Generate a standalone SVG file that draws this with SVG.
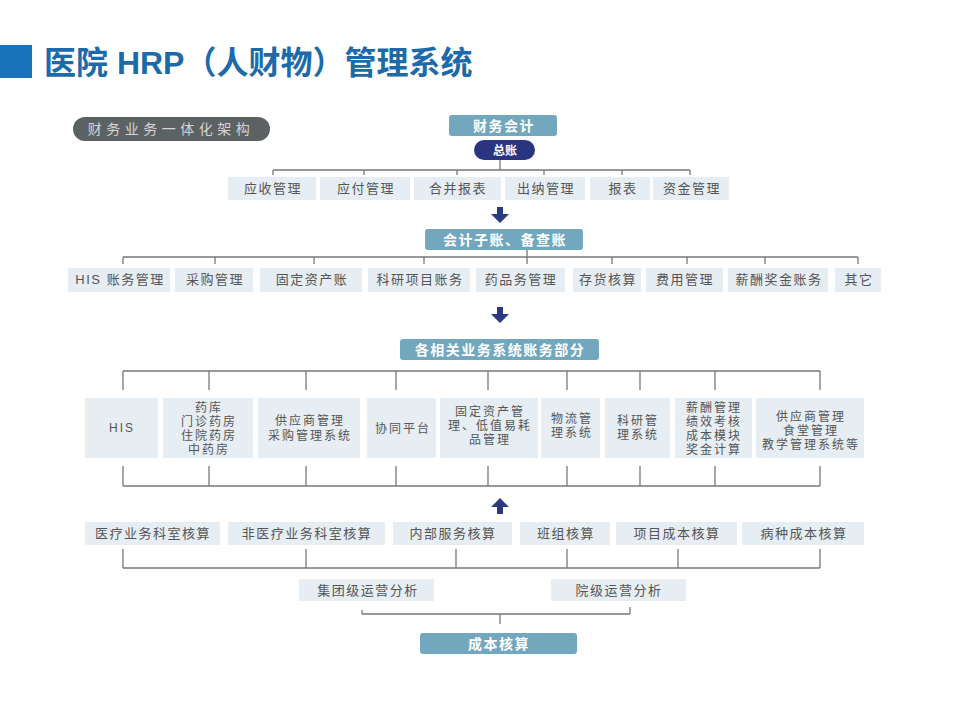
<svg xmlns="http://www.w3.org/2000/svg" width="960" height="720" viewBox="0 0 960 720">
<defs>
<style>
text{font-family:"Liberation Sans","Noto Sans CJK SC",sans-serif;}
.title{font-size:32px;font-weight:bold;fill:#1d6aaa;}
.item rect{fill:#e6edf3;}
.item text{font-size:13px;fill:#555;text-anchor:middle;letter-spacing:1.5px;}
.sys text{font-size:12px;letter-spacing:2px;}
.head rect{fill:#72a7bd;}
.head text{font-size:14px;font-weight:bold;fill:#fff;text-anchor:middle;letter-spacing:1.5px;}
.conn line{stroke:#777;stroke-width:1.3;}
.arrow{fill:#2b3a80;}
</style>
</defs>
<rect width="960" height="720" fill="#fff"/>
<rect x="0" y="45" width="32" height="33" fill="#1a72bb"/>
<text class="title" x="44" y="74">医院 HRP（人财物）管理系统</text>

<g id="pill">
<rect x="73" y="117" width="197" height="24" rx="12" fill="#5c6164"/>
<text x="171" y="134" font-size="14" fill="#d5d5d5" text-anchor="middle" letter-spacing="4.5">财务业务一体化架构</text>
</g>

<g id="caiwu" class="head"><rect x="449" y="115" width="108" height="21" rx="3"/><text x="504" y="131">财务会计</text></g>
<g id="zongzhang"><rect x="474" y="140" width="61" height="20" rx="10" fill="#2a3582"/><text x="505" y="155" font-size="12" font-weight="bold" fill="#fff" text-anchor="middle">总账</text></g>

<g id="r1a" class="item"><rect x="228" y="177" width="88" height="23"/><text x="273" y="193">应收管理</text></g>
<g id="r1b" class="item"><rect x="320" y="177" width="90" height="23"/><text x="366" y="193">应付管理</text></g>
<g id="r1c" class="item"><rect x="414" y="177" width="87" height="23"/><text x="458" y="193">合并报表</text></g>
<g id="r1d" class="item"><rect x="505" y="177" width="80" height="23"/><text x="546" y="193">出纳管理</text></g>
<g id="r1e" class="item"><rect x="590" y="177" width="60" height="23"/><text x="623" y="193">报表</text></g>
<g id="r1f" class="item"><rect x="653" y="177" width="76" height="23"/><text x="692" y="193">资金管理</text></g>

<g id="zizhang" class="head"><rect x="425" y="229" width="158" height="21" rx="3"/><text x="505" y="245">会计子账、备查账</text></g>

<g id="r2a" class="item"><rect x="68" y="268" width="102" height="24"/><text x="120" y="284">HIS 账务管理</text></g>
<g id="r2b" class="item"><rect x="175" y="268" width="78" height="24"/><text x="215" y="284">采购管理</text></g>
<g id="r2c" class="item"><rect x="260" y="268" width="102" height="24"/><text x="312" y="284">固定资产账</text></g>
<g id="r2d" class="item"><rect x="368" y="268" width="102" height="24"/><text x="420" y="284">科研项目账务</text></g>
<g id="r2e" class="item"><rect x="476" y="268" width="89" height="24"/><text x="521" y="284">药品务管理</text></g>
<g id="r2f" class="item"><rect x="573" y="268" width="68" height="24"/><text x="608" y="284">存货核算</text></g>
<g id="r2g" class="item"><rect x="646" y="268" width="77" height="24"/><text x="685" y="284">费用管理</text></g>
<g id="r2h" class="item"><rect x="728" y="268" width="100" height="24"/><text x="779" y="284">薪酬奖金账务</text></g>
<g id="r2i" class="item"><rect x="835" y="268" width="46" height="24"/><text x="859" y="284">其它</text></g>

<g id="bufen" class="head"><rect x="400" y="339" width="199" height="21" rx="3"/><text x="500" y="355">各相关业务系统账务部分</text></g>

<g id="s1" class="item sys"><rect x="85" y="398" width="73" height="60"/><text x="122" y="432">HIS</text></g>
<g id="s2" class="item sys"><rect x="163" y="398" width="90" height="60"/><text x="209" y="412">药库</text><text x="209" y="426">门诊药房</text><text x="209" y="440">住院药房</text><text x="209" y="454">中药房</text></g>
<g id="s3" class="item sys"><rect x="258" y="398" width="102" height="60"/><text x="310" y="425">供应商管理</text><text x="310" y="440">采购管理系统</text></g>
<g id="s4" class="item sys"><rect x="367" y="398" width="69" height="60"/><text x="403" y="433">协同平台</text></g>
<g id="s5" class="item sys"><rect x="440" y="398" width="98" height="60"/><text x="490" y="416">固定资产管</text><text x="490" y="430">理、低值易耗</text><text x="490" y="444">品管理</text></g>
<g id="s6" class="item sys"><rect x="541" y="398" width="59" height="60"/><text x="572" y="423">物流管</text><text x="572" y="437">理系统</text></g>
<g id="s7" class="item sys"><rect x="605" y="398" width="65" height="60"/><text x="638" y="425">科研管</text><text x="638" y="439">理系统</text></g>
<g id="s8" class="item sys"><rect x="675" y="398" width="77" height="60"/><text x="714" y="412">薪酬管理</text><text x="714" y="426">绩效考核</text><text x="714" y="440">成本模块</text><text x="714" y="454">奖金计算</text></g>
<g id="s9" class="item sys"><rect x="756" y="398" width="108" height="60"/><text x="811" y="421">供应商管理</text><text x="811" y="435">食堂管理</text><text x="811" y="449">教学管理系统等</text></g>

<g id="c1" class="item"><rect x="85" y="522" width="135" height="23"/><text x="153" y="538">医疗业务科室核算</text></g>
<g id="c2" class="item"><rect x="228" y="522" width="157" height="23"/><text x="307" y="538">非医疗业务科室核算</text></g>
<g id="c3" class="item"><rect x="393" y="522" width="119" height="23"/><text x="453" y="538">内部服务核算</text></g>
<g id="c4" class="item"><rect x="520" y="522" width="90" height="23"/><text x="566" y="538">班组核算</text></g>
<g id="c5" class="item"><rect x="616" y="522" width="121" height="23"/><text x="677" y="538">项目成本核算</text></g>
<g id="c6" class="item"><rect x="742" y="522" width="122" height="23"/><text x="804" y="538">病种成本核算</text></g>

<g id="g1" class="item"><rect x="299" y="579" width="135" height="22"/><text x="368" y="595">集团级运营分析</text></g>
<g id="g2" class="item"><rect x="551" y="579" width="135" height="22"/><text x="619" y="595">院级运营分析</text></g>

<g id="chengben" class="head"><rect x="420" y="633" width="157" height="21" rx="3"/><text x="499" y="649">成本核算</text></g>

<g id="connectors" class="conn">
<line x1="500" y1="160" x2="500" y2="170"/>
<line x1="273" y1="170" x2="690" y2="170"/>
<line x1="273" y1="170" x2="273" y2="175"/>
<line x1="364" y1="170" x2="364" y2="175"/>
<line x1="457" y1="170" x2="457" y2="175"/>
<line x1="544" y1="170" x2="544" y2="175"/>
<line x1="622" y1="170" x2="622" y2="175"/>
<line x1="690" y1="170" x2="690" y2="175"/>

<line x1="123" y1="257" x2="858" y2="257"/>
<line x1="123" y1="257" x2="123" y2="264"/>
<line x1="215" y1="257" x2="215" y2="264"/>
<line x1="314" y1="257" x2="314" y2="264"/>
<line x1="424" y1="257" x2="424" y2="264"/>
<line x1="527" y1="250" x2="527" y2="264"/>
<line x1="612" y1="257" x2="612" y2="264"/>
<line x1="687" y1="257" x2="687" y2="264"/>
<line x1="765" y1="257" x2="765" y2="264"/>
<line x1="858" y1="257" x2="858" y2="264"/>

<line x1="123" y1="371" x2="820" y2="371"/>
<line x1="123" y1="371" x2="123" y2="390"/>
<line x1="209" y1="371" x2="209" y2="390"/>
<line x1="306" y1="371" x2="306" y2="390"/>
<line x1="396" y1="371" x2="396" y2="390"/>
<line x1="488" y1="371" x2="488" y2="390"/>
<line x1="567" y1="371" x2="567" y2="390"/>
<line x1="640" y1="371" x2="640" y2="390"/>
<line x1="715" y1="371" x2="715" y2="390"/>
<line x1="820" y1="371" x2="820" y2="390"/>

<line x1="123" y1="486" x2="820" y2="486"/>
<line x1="123" y1="466" x2="123" y2="486"/>
<line x1="209" y1="466" x2="209" y2="486"/>
<line x1="306" y1="466" x2="306" y2="486"/>
<line x1="396" y1="466" x2="396" y2="486"/>
<line x1="488" y1="466" x2="488" y2="486"/>
<line x1="567" y1="466" x2="567" y2="486"/>
<line x1="640" y1="466" x2="640" y2="486"/>
<line x1="715" y1="466" x2="715" y2="486"/>
<line x1="820" y1="466" x2="820" y2="486"/>

<line x1="123" y1="568" x2="820" y2="568"/>
<line x1="123" y1="549" x2="123" y2="568"/>
<line x1="306" y1="549" x2="306" y2="568"/>
<line x1="456" y1="549" x2="456" y2="568"/>
<line x1="567" y1="549" x2="567" y2="568"/>
<line x1="678" y1="549" x2="678" y2="568"/>
<line x1="820" y1="549" x2="820" y2="568"/>

<line x1="362" y1="614" x2="630" y2="614"/>
<line x1="362" y1="610" x2="362" y2="614"/>
<line x1="630" y1="607" x2="630" y2="614"/>
<line x1="500" y1="614" x2="500" y2="624"/>
</g>

<g id="arrows" class="arrow">
<polygon points="497,207 503,207 503,214 509,214 500,223 491,214 497,214"/>
<polygon points="497,307 503,307 503,314 509,314 500,323 491,314 497,314"/>
<polygon points="500,498 509,507 503,507 503,514 497,514 497,507 491,507"/>
</g>
</svg>
